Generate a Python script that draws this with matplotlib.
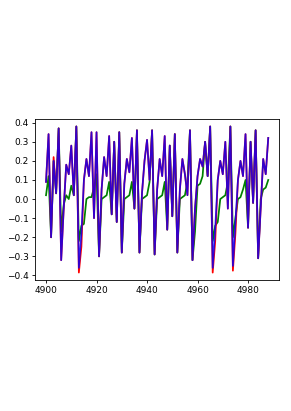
import numpy as np
import matplotlib
matplotlib.use("Agg")
import matplotlib.pyplot as plt

# time index
t = np.arange(4900, 4989)

# observed series (red)
actual = [0.09, 0.34, -0.20, 0.22, 0.03, 0.37, -0.32, -0.05, 0.18, 0.13,
          0.28, 0.02, 0.38, -0.385, -0.25, 0.10, 0.21, 0.12, 0.35, -0.10,
          0.35, -0.30, 0.05, 0.22, 0.12, 0.33, -0.08, 0.30, -0.12, 0.35,
          -0.28, 0.08, 0.21, 0.14, 0.32, -0.05, 0.36, -0.28, 0.03, 0.20,
          0.31, 0.10, 0.36, -0.29, 0.05, 0.21, 0.12, 0.33, -0.16, 0.28,
          -0.09, 0.34, -0.28, 0.05, 0.21, 0.13, 0.02, 0.36, -0.32, -0.05,
          0.12, 0.21, 0.17, 0.30, 0.12, 0.38, -0.385, -0.22, 0.10, 0.20,
          0.13, 0.30, -0.05, 0.38, -0.375, -0.18, 0.10, 0.20, 0.12, 0.34,
          -0.15, 0.30, -0.02, 0.36, -0.31, -0.05, 0.21, 0.13, 0.32]

# fitted series (blue)
fitted = [0.09, 0.34, -0.20, 0.20, 0.03, 0.37, -0.32, -0.05, 0.18, 0.13,
          0.28, 0.02, 0.38, -0.36, -0.18, 0.10, 0.21, 0.12, 0.35, -0.10,
          0.35, -0.30, 0.05, 0.22, 0.12, 0.33, -0.08, 0.30, -0.12, 0.35,
          -0.28, 0.08, 0.21, 0.14, 0.32, -0.05, 0.36, -0.28, 0.03, 0.20,
          0.31, 0.10, 0.36, -0.29, 0.05, 0.21, 0.12, 0.33, -0.16, 0.28,
          -0.09, 0.34, -0.28, 0.05, 0.21, 0.13, 0.02, 0.36, -0.32, -0.05,
          0.12, 0.21, 0.17, 0.30, 0.12, 0.38, -0.36, -0.15, 0.10, 0.20,
          0.13, 0.30, -0.05, 0.38, -0.35, -0.12, 0.10, 0.20, 0.12, 0.34,
          -0.15, 0.30, -0.02, 0.36, -0.31, -0.05, 0.21, 0.13, 0.32]

# baseline model (green)
baseline = [0.02, 0.12, -0.20, 0.20, 0.03, 0.37, -0.17, -0.03, 0.02, 0.00,
            0.07, 0.02, 0.38, -0.22, -0.14, -0.13, 0.00, 0.01, 0.01, 0.06,
            0.13, -0.30, 0.00, 0.01, 0.02, 0.09, -0.08, 0.30, -0.12, 0.35,
            -0.28, 0.00, 0.01, 0.02, 0.09, -0.05, 0.36, -0.28, 0.00, 0.01,
            0.02, 0.09, 0.36, -0.29, 0.00, 0.01, 0.02, 0.09, -0.16, 0.28,
            -0.09, 0.34, -0.28, 0.00, 0.01, 0.02, 0.09, 0.36, -0.32, -0.17,
            0.07, 0.08, 0.12, 0.30, 0.12, 0.38, -0.22, -0.14, -0.12, 0.00,
            0.01, 0.02, 0.09, 0.38, -0.20, -0.10, 0.00, 0.01, 0.05, 0.10,
            -0.15, 0.30, -0.02, 0.36, -0.31, 0.00, 0.05, 0.06, 0.10]

fig = plt.figure(figsize=(2.91, 4.11), dpi=100)
ax = fig.add_axes([0.120, 0.319, 0.840, 0.391])

ax.plot(t, baseline, color='green', lw=1.25)
ax.plot(t, actual, color='red', lw=1.25)
ax.plot(t, fitted, color='blue', lw=1.25, alpha=0.8)

ax.set_xticks([4900, 4920, 4940, 4960, 4980])
ax.set_yticks([-0.4, -0.3, -0.2, -0.1, 0.0, 0.1, 0.2, 0.3, 0.4])
ax.tick_params(labelsize=6.5, length=2.5, width=0.6, pad=2)
for s in ax.spines.values():
    s.set_linewidth(0.6)

plt.savefig('out.png', dpi=100)
